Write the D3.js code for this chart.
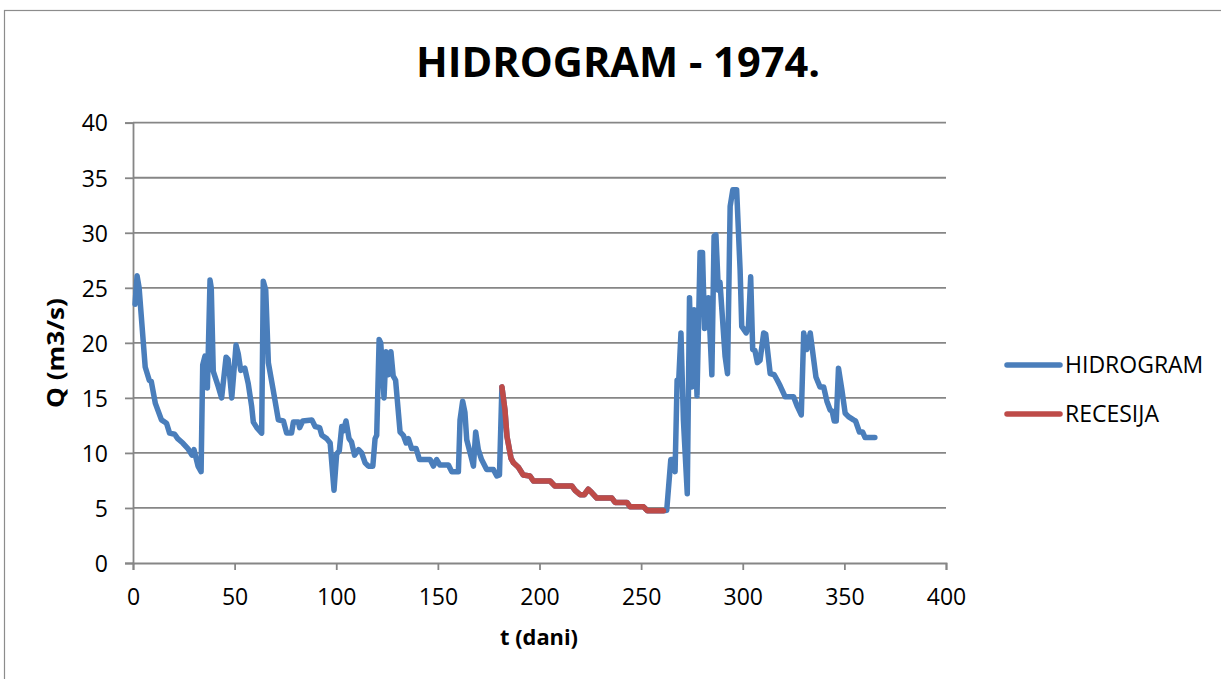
<!DOCTYPE html>
<html>
<head>
<meta charset="utf-8">
<script src="https://cdn.jsdelivr.net/npm/d3@7"></script>
<style>
  html, body { margin: 0; padding: 0; background: #fff; }
  svg { display: block; font-family: "Open Sans", "Liberation Sans", sans-serif; }
</style>
</head>
<body>
<svg id="chart" width="1221" height="679"></svg>
<script>
// ---- data ----
const hydroDays = [1,2,3,6,8,9,11,14,16.5,18,20.5,22,24.5,27,29,30,32,33.5,34.3,35.4,36.6,37.9,38.5,39.5,42,43.6,45.8,46.8,48.6,50.7,51.8,53,55,56.7,58.4,59.2,60.9,63.3,64.1,65.3,66.6,69,71.5,74,75.6,78,78.9,81.4,82,83.5,88,89.6,91.8,92.9,95.3,97,98.9,100.2,101.5,102.7,103.5,104.8,106.3,107.5,109,111,112.5,114.2,115.8,118,119.1,119.9,121.1,121.9,123.5,124.5,125.6,126.9,128,129.2,131.4,133,134.4,135.5,137.1,139.3,140.9,146.2,147.8,149.4,151,155.2,156.8,160.1,160.9,162.2,163.3,164.2,166.7,167.5,168.6,169.9,171.5,174,177.3,179,180.3,181.5,
  183,184,184.7,186,187.2,189.6,192,195.3,197,205.2,207.5,215.9,217.5,220,222,224,225.7,228.2,235.6,237.2,243,244.6,251.2,253.1,261,
  262.6,264.6,265.5,266.7,267.7,268.5,269.6,270.8,272.7,273.8,274.9,276.1,277.5,279,280.2,281.2,283.1,284.8,285.9,286.8,288,288.8,291.3,292.5,293.8,295.1,297,298.7,299.5,301.7,302.8,303.9,304.9,306,307.2,308.5,310.3,311.3,313.5,315.5,317,318.4,320.9,325,326.9,328.8,330,331.5,333.2,336,338,339.8,341.4,343,344,345,346,347.1,348.8,350.4,352,354.5,355.5,357.4,359,360.2,365];
const hydroQ = [23.5,26.1,25.0,17.8,16.6,16.5,14.5,13.0,12.7,11.8,11.7,11.3,10.9,10.4,9.8,10.3,8.8,8.3,18.0,18.8,15.9,25.7,25.0,17.4,16.0,15.0,18.7,18.5,15.0,19.8,19.0,17.5,17.7,16.3,14.2,12.8,12.3,11.8,25.6,24.8,18.2,15.7,13.0,12.9,11.8,11.8,12.8,12.8,12.3,12.9,13.0,12.4,12.3,11.6,11.3,10.9,6.6,9.9,10.2,12.4,12.0,12.9,11.3,11.0,9.8,10.3,10.0,9.1,8.8,8.8,11.3,11.6,20.3,20.0,15.0,19.2,17.1,19.2,17.0,16.6,11.9,11.6,10.9,11.3,10.4,10.4,9.4,9.4,8.8,9.4,8.9,8.9,8.3,8.3,13.0,14.7,13.7,11.2,9.4,8.8,11.9,10.3,9.4,8.5,8.5,7.9,8.0,16.0,
  13.9,11.5,10.8,9.5,9.1,8.7,8.0,7.9,7.45,7.45,7.0,7.0,6.6,6.2,6.2,6.7,6.4,5.9,5.9,5.5,5.5,5.1,5.1,4.75,4.75,
  4.8,9.4,9.4,8.3,16.6,16.6,20.9,13.0,6.3,24.1,16.0,23.0,15.2,28.2,28.2,21.3,24.1,17.1,29.7,29.8,24.8,25.5,18.8,17.2,32.4,33.9,33.9,26.6,21.5,20.9,21.5,26.0,19.4,19.3,18.2,18.4,20.9,20.8,17.2,17.1,16.6,16.1,15.1,15.1,14.2,13.45,20.9,19.4,20.9,16.9,16.0,16.0,14.7,13.9,13.8,12.9,12.9,17.7,15.7,13.6,13.3,13.0,12.9,11.9,11.9,11.4,11.4];

const recessionDays = [181.5,183,184,184.7,186,187.2,189.6,192,195.3,197,205.2,207.5,215.9,217.5,220,222,224,225.7,228.2,235.6,237.2,243,244.6,251.2,253.1,261];
const recessionQ    = [16.0,13.9,11.5,10.8,9.5,9.1,8.7,8.0,7.9,7.45,7.45,7.0,7.0,6.6,6.2,6.2,6.7,6.4,5.9,5.9,5.5,5.5,5.1,5.1,4.75,4.75];

const xTicks = [0,50,100,150,200,250,300,350,400];
const yTicks = [0,5,10,15,20,25,30,35,40];
const seriesNames = ["HIDROGRAM","RECESIJA"];
const seriesColors = ["#4a7ebb","#be4b48"];
const titleText = "HIDROGRAM - 1974.";
const xTitle = "t (dani)";
const yTitle = "Q (m3/s)";

// ---- drawing ----
const svg = d3.select("#chart");
const gridColor = "#868686";

// outer frame
svg.append("rect").attr("x",4.5).attr("y",10.5).attr("width",1240).attr("height",700)
  .attr("fill","none").attr("stroke","#8c8c8c").attr("stroke-width",1.2);

const x = d3.scaleLinear().domain([0,400]).range([133,946]);
const y = d3.scaleLinear().domain([0,40]).range([563,122.7]);

// gridlines
svg.append("g").selectAll("line").data(yTicks.filter(d=>d>0)).join("line")
  .attr("x1",x(0)).attr("x2",x(400)).attr("y1",d=>y(d)).attr("y2",d=>y(d))
  .attr("stroke",gridColor).attr("stroke-width",1.8);

// y axis
const yAxis = svg.append("g").attr("transform",`translate(${x(0)},0)`)
  .call(d3.axisLeft(y).tickValues(yTicks).tickSize(8).tickPadding(17));
// x axis
const xAxis = svg.append("g").attr("transform",`translate(0,${y(0)})`)
  .call(d3.axisBottom(x).tickValues(xTicks).tickSize(7).tickPadding(18));
[yAxis,xAxis].forEach(a=>{
  a.select(".domain").attr("stroke",gridColor).attr("stroke-width",1.8);
  a.selectAll(".tick line").attr("stroke",gridColor).attr("stroke-width",1.8);
  a.selectAll(".tick text").attr("fill","#000").style("font-size","23px")
    .style("font-family",'"Open Sans", sans-serif');
});
yAxis.selectAll(".tick text").attr("dy","0.36em");
xAxis.selectAll(".tick text").attr("dy","0.72em");

// lines
const line = d3.line().x(d=>x(d[0])).y(d=>y(d[1])).curve(d3.curveLinear);
const hydroData = hydroDays.map((d,i)=>[d,hydroQ[i]]);
const recData = recessionDays.map((d,i)=>[d,recessionQ[i]]);
svg.append("path").datum(hydroData).attr("d",line).attr("fill","none")
  .attr("stroke",seriesColors[0]).attr("stroke-width",5.5)
  .attr("stroke-linejoin","round").attr("stroke-linecap","round");
svg.append("path").datum(recData).attr("d",line).attr("fill","none")
  .attr("stroke",seriesColors[1]).attr("stroke-width",5.5)
  .attr("stroke-linejoin","round").attr("stroke-linecap","round");

// title
svg.append("text").attr("x",618).attr("y",77).attr("text-anchor","middle")
  .style("font-size","42px").style("font-weight","bold")
  .attr("textLength",404).attr("lengthAdjust","spacingAndGlyphs").text(titleText);

// axis titles
svg.append("text").attr("x",539).attr("y",645).attr("text-anchor","middle")
  .style("font-size","22px").style("font-weight","bold")
  .attr("textLength",78).attr("lengthAdjust","spacingAndGlyphs").text(xTitle);
svg.append("text").attr("transform","translate(64,353) rotate(-90)").attr("text-anchor","middle")
  .style("font-size","23px").style("font-weight","bold")
  .attr("textLength",110).attr("lengthAdjust","spacingAndGlyphs").text(yTitle);

// legend
const legY = [365,414];
seriesNames.forEach((n,i)=>{
  svg.append("line").attr("x1",1007).attr("x2",1060).attr("y1",legY[i]).attr("y2",legY[i])
    .attr("stroke",seriesColors[i]).attr("stroke-width",5.5).attr("stroke-linecap","round");
  svg.append("text").attr("x",1065).attr("y",legY[i]).attr("dy","0.36em")
    .style("font-size","23px").text(n);
});
</script>
</body>
</html>
